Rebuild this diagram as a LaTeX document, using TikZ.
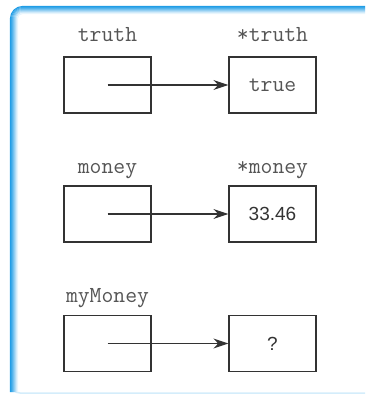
\documentclass[tikz,border=0pt]{standalone}
\usepackage{fontspec}
\setmainfont{Liberation Sans}
\setsansfont{Liberation Sans}
\usetikzlibrary{arrows.meta}
\definecolor{ink}       {HTML}{333333}
\definecolor{codegray}  {HTML}{555555}
\definecolor{frameblue} {HTML}{1E9CE6}
\definecolor{framelight}{HTML}{D4EDFB}
\tikzset{
  varbox/.style  ={draw=ink, line width=1.3pt,
                   minimum width=87pt, minimum height=56pt, inner sep=0pt},
  varname/.style ={font=\fontsize{23}{23}\selectfont\ttfamily,
                   text=codegray, anchor=base, inner sep=0pt},
  codeval/.style ={font=\fontsize{23}{23}\selectfont\ttfamily, text=codegray},
  numval/.style  ={font=\fontsize{19}{19}\selectfont\sffamily, text=ink},
  ptrarr/.style  ={-{Stealth[length=15pt,width=10pt]}, line width=1.2pt, color=ink},
}

\begin{document}
\begin{tikzpicture}[x=1pt,y=-1pt]
    \useasboundingbox (0,0) rectangle (365,396);

    % Frame
    \draw[framelight, line width=1.5pt, rounded corners=9pt] (11,360) |- (365,393);
    \foreach \i/\pct in {0/100,1/90,2/78,3/64,4/50,5/36,6/22,7/10}
      \draw[line width=1.1pt, color=frameblue!\pct!white, rounded corners=12pt-\i pt]
        (365,6.5+\i) -| (10.5+\i,392);

    % Row 1: truth
    \node[varbox] (truth)    at (107.5,85) {};
    \node[varbox] (truthval) at (272.5,85) {};
    \node[codeval] at (truthval.center) {true};
    \node[varname] (truthname)    at (107.5,42) {truth};
    \node[varname] (truthvalname) at (272.5,42) {*truth};
    \draw[ptrarr] (truth.center) -- (truthval.west);

    % Row 2: money
    \node[varbox] (money)    at (107.5,214) {};
    \node[varbox] (moneyval) at (272.5,214) {};
    \node[numval] at (moneyval.center) {33.46};
    \node[varname] (moneyname)    at (107.5,173) {money};
    \node[varname] (moneyvalname) at (272.5,173) {*money};
    \draw[ptrarr] (money.center) -- (moneyval.west);

    % Row 3: myMoney
    \node[varbox] (mymoney)    at (107.5,343.5) {};
    \node[varbox] (mymoneyval) at (272.5,343.5) {};
    \node[numval] at (mymoneyval.center) {?};
    \node[varname] (mymoneyname) at (107.5,302.5) {myMoney};
    \draw[ptrarr] (mymoney.center) -- (mymoneyval.west);
\end{tikzpicture}
\end{document}
